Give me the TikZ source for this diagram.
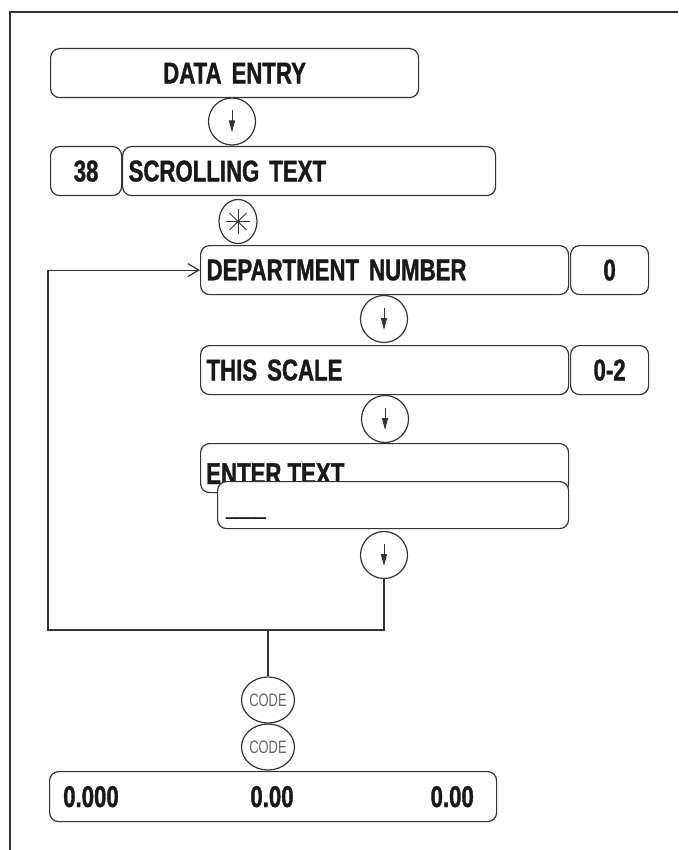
\documentclass[tikz,border=0pt]{standalone}
\usepackage{fontspec}
\usetikzlibrary{arrows.meta,calc,shapes.geometric}
\newfontfamily\dinfont[FakeStretch=0.74,FakeBold=1.2]{Liberation Sans}
\newfontfamily\codefont[FakeStretch=0.72]{Liberation Sans}
\definecolor{lcol}{gray}{0.2}
\definecolor{tcol}{gray}{0.1}
\tikzset{
  lc/.style={draw=lcol, line width=1.2pt},
  rbox/.style={lc, rounded corners=9pt, fill=white, inner ysep=0pt, inner xsep=6pt,
    minimum height=49pt, anchor=north west, text=tcol, align=left,
    font=\dinfont\bfseries\fontsize{30}{30}\selectfont},
  btext/.style={inner sep=0pt, text=tcol, font=\dinfont\bfseries\fontsize{30}{30}\selectfont},
  kcirc/.style={lc, circle, minimum size=47pt, inner sep=0pt},
  karrow/.style={draw=lcol, line width=1pt, -{Triangle[length=12pt,width=6pt]}},
  codec/.style={lc, ellipse, minimum width=46pt, minimum height=46pt, inner sep=0pt,
    text=black!60, font=\codefont\fontsize{18}{18}\selectfont},
}
\begin{document}
\begin{tikzpicture}[x=1pt,y=-1pt]
\useasboundingbox (0,0) rectangle (678,850);
% frame
\draw[lc] (10,850) -- (10,12) -- (678,12);
% top
\node[rbox, text width=356pt, align=center] (dataentry) at (50,48) {DATA ENTRY};
\node[kcirc] (c1) at (232,121.5) {};
\draw[karrow] ($(c1)+(0,-11)$) -- ($(c1)+(0,11)$);
\node[rbox, text width=59pt, align=center] (n38) at (50,146) {38};
\node[rbox, text width=361pt] (scroll) at (122,146) {SCROLLING TEXT};
\node[lc, ellipse, minimum width=38pt, minimum height=44pt, inner sep=0pt] (star) at (238,221.5) {};
\foreach \a in {0,45,90,135}
  \draw[draw=lcol, line width=1pt] ($(star)+(\a:12)$) -- ($(star)+(\a+180:12)$);
% department
\node[rbox, text width=356pt] (dept) at (200,245) {DEPARTMENT NUMBER};
\node[rbox, text width=66pt, align=center] (v0) at (570,245) {0};
\node[kcirc] (c2) at (384,319) {};
\draw[karrow] ($(c2)+(0,-11)$) -- ($(c2)+(0,11)$);
\node[rbox, text width=356pt] (thisscale) at (200,345) {THIS SCALE};
\node[rbox, text width=66pt, align=center] (v02) at (570,345) {0-2};
\node[kcirc] (c3) at (385,419) {};
\draw[karrow] ($(c3)+(0,-11)$) -- ($(c3)+(0,11)$);
% enter text
\node[rbox, text width=356pt] (enter) at (200,443) {};
\node[btext, anchor=base west] (entertxt) at (206,484) {ENTER TEXT};
\node[rbox, text width=339pt, minimum height=47pt] (input) at (217,481) {};
\node[inner sep=0pt, anchor=base west, text=tcol, font=\dinfont\fontsize{24}{24}\selectfont] (cursor) at (226,514) {\_\_\_\_};
\node[kcirc] (c4) at (384,555) {};
\draw[karrow] ($(c4)+(0,-11)$) -- ($(c4)+(0,11)$);
% loop back
\coordinate (loopR) at (384,630);
\coordinate (loopL) at (48,630);
\draw[lc, -{Straight Barb[length=11pt,width=13pt]}] (c4.south) -- (loopR) -- (loopL) -- (loopL |- dept.west) -- (dept.west);
% code
\coordinate (codeTop) at (268,630);
\node[codec] (code1) at (268,700) {CODE};
\node[codec] (code2) at (268,747) {CODE};
\draw[lc] (codeTop) -- (code1.north);
% display
\node[rbox, text width=435pt, minimum height=50pt] (display) at (49,771) {};
\node[btext, anchor=base west] (d1) at (63,807) {0.000};
\node[btext, anchor=base] (d2) at (272,807) {0.00};
\node[btext, anchor=base east] (d3) at (474,807) {0.00};
\end{tikzpicture}
\end{document}
